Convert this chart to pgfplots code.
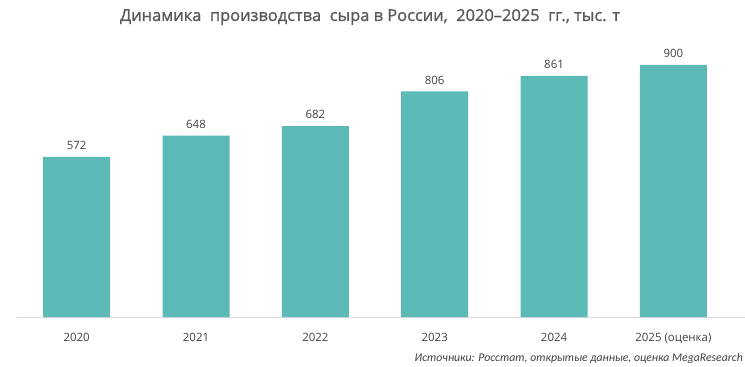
\documentclass[border=0pt]{standalone}
\usepackage{pgfplots}
\pgfplotsset{compat=1.18}
\usepackage{fontspec}
\setmainfont{Open Sans}
\newfontfamily\ttlfont[FakeBold=1.2]{Open Sans}
\newfontfamily\srcfont{Carlito}
\definecolor{bar}{HTML}{5BBAB5}
\definecolor{txt}{HTML}{404040}
\definecolor{ttl}{HTML}{595959}
\definecolor{axl}{HTML}{D9D9D9}
\begin{document}
\begin{tikzpicture}[x=1bp,y=1bp]
\begin{axis}[
  at={(17bp,50bp)}, anchor=south west,
  scale only axis, width=728bp, height=280bp,
  xmin=-0.5, xmax=5.6, ymin=0, ymax=1000,
  axis y line=none,
  axis x line*=bottom,
  x axis line style={axl, line width=1pt, -},
  xtick=data,
  xticklabels={2020,2021,2022,2023,2024,{2025 (оценка)}},
  xtick style={draw=none},
  x tick label style={font=\fontsize{11.5}{13}\selectfont, text=txt, yshift=-13bp},
  /pgf/number format/assume math mode=true,
  nodes near coords,
  nodes near coords style={font=\fontsize{11.5}{13}\selectfont, text=txt, anchor=south, yshift=3.5bp},
  clip=false,
]
\addplot[ybar, bar width=67bp, fill=bar, draw=none] coordinates {(0,572) (1,648) (2,682) (3,806) (4,861) (5,900)};
\end{axis}
\node[text=ttl, font=\ttlfont\fontsize{16.5}{19}\selectfont] at (370bp,350bp) {Динамика\ \ производства\ \ сыра в России,\ \ 2020–2025\ \ гг., тыс. т};
\node[text=txt, font=\srcfont\itshape\fontsize{11.8}{13}\selectfont, anchor=east, inner sep=0pt] at (743bp,9bp) {Источники: Росстат, открытые данные, оценка MegaResearch};
\pgfresetboundingbox
\useasboundingbox (0,0) rectangle (745bp,367bp);
\end{tikzpicture}
\end{document}
